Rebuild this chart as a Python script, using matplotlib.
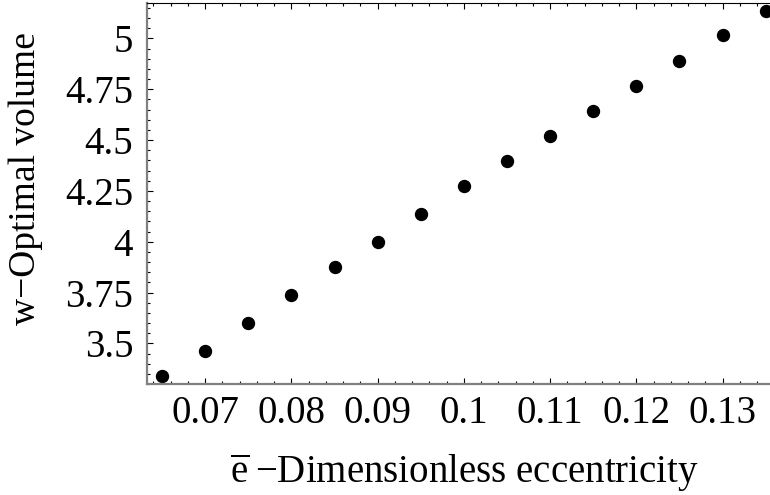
import matplotlib
matplotlib.use('Agg')
import matplotlib.pyplot as plt
from matplotlib.ticker import MultipleLocator

plt.rcParams['font.family'] = ['Liberation Serif', 'DejaVu Serif']
plt.rcParams['mathtext.fontset'] = 'custom'
plt.rcParams['mathtext.rm'] = 'Liberation Serif'

# data
eccentricity = [0.065, 0.07, 0.075, 0.08, 0.085, 0.09, 0.095, 0.1,
                0.105, 0.11, 0.115, 0.12, 0.125, 0.13, 0.135]
volume = [3.339, 3.462, 3.598, 3.736, 3.874, 3.998, 4.136, 4.272,
          4.396, 4.519, 4.642, 4.767, 4.890, 5.015, 5.136]

x_ticks = [0.07, 0.08, 0.09, 0.1, 0.11, 0.12, 0.13]
x_tick_labels = ['0.07', '0.08', '0.09', '0.1', '0.11', '0.12', '0.13']
y_ticks = [3.5, 3.75, 4.0, 4.25, 4.5, 4.75, 5.0]
y_tick_labels = ['3.5', '3.75', '4', '4.25', '4.5', '4.75', '5']

fig = plt.figure(figsize=(7.7, 4.95), dpi=100)
ax = fig.add_axes([147 / 770, 111 / 495, 1 - 147 / 770 + 0.01, 381 / 495])

ax.plot(eccentricity, volume, 'o', color='black', markersize=8.6, clip_on=False)

ax.set_xlim(0.06325, 0.1364)
ax.set_ylim(3.300, 5.174)

ax.set_xticks(x_ticks)
ax.set_xticklabels(x_tick_labels)
ax.set_yticks(y_ticks)
ax.set_yticklabels(y_tick_labels)
ax.xaxis.set_minor_locator(MultipleLocator(0.002))
ax.yaxis.set_minor_locator(MultipleLocator(0.05))

ax.tick_params(which='both', direction='in', top=True, right=False,
               labelsize=28, width=0.8, color='black')
ax.tick_params(which='major', length=4)
ax.tick_params(which='minor', length=2.5)
ax.tick_params(axis='x', pad=8)
ax.tick_params(axis='y', pad=10)

for side in ['left', 'bottom']:
    ax.spines[side].set_color('#808080')
    ax.spines[side].set_linewidth(1.6)
ax.spines['top'].set_color('black')
ax.spines['top'].set_linewidth(0.8)
ax.spines['right'].set_visible(False)

ax.set_xlabel(r'$\overline{\mathrm{e}}$' + '\u2009\u2212Dimensionless eccentricity',
              fontsize=28)
ax.xaxis.set_label_coords((464 - 147) / (770 - 147 + 7.7), -0.178)
ax.set_ylabel('w\u2212Optimal volume', fontsize=27)
ax.yaxis.set_label_coords(-0.165, 0.54)

fig.savefig('out.png', dpi=100)
